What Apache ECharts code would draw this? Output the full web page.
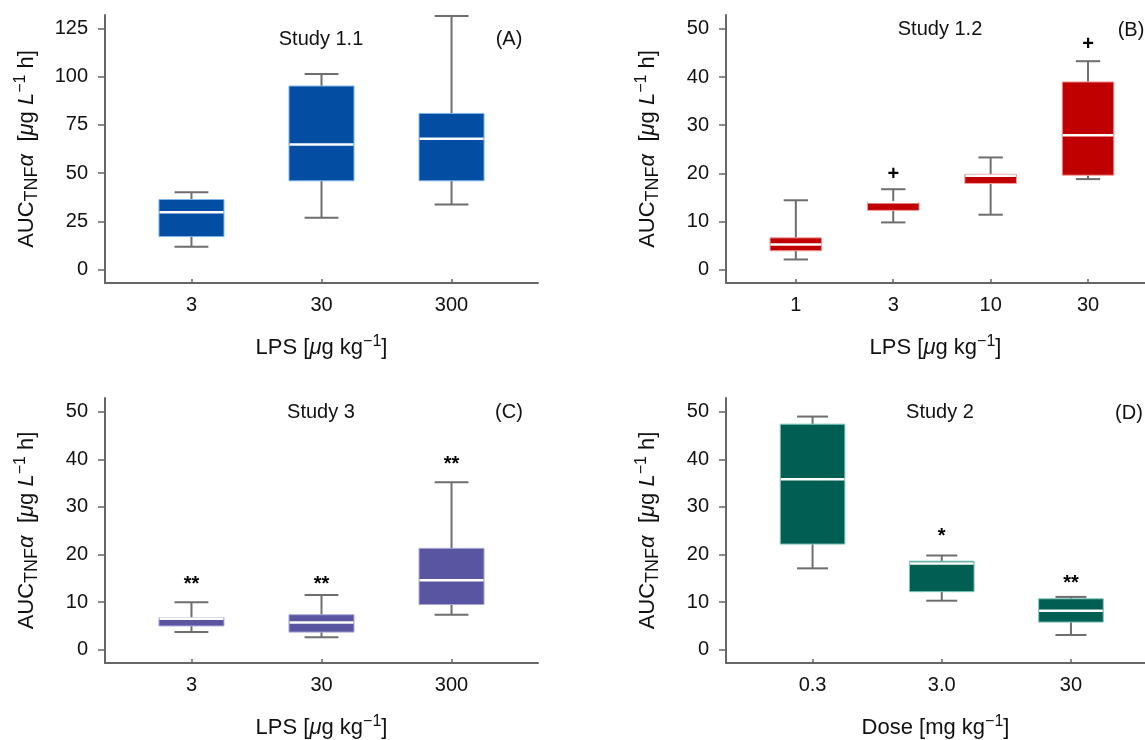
<!DOCTYPE html>
<html><head><meta charset="utf-8">
<script src="https://cdn.jsdelivr.net/npm/echarts@6/dist/echarts.min.js"></script>
<style>html,body{margin:0;padding:0;background:#fff}#c{width:1145px;height:740px}</style>
</head><body><div id="c"></div>
<script>
// ---- data: [low whisker, Q1, median, Q3, high whisker] ----
const catsA = ['3', '30', '300'];
const statsA = [[11.8, 17.1, 29.7, 36.3, 40.1], [26.8, 46.0, 64.8, 95.1, 101.3], [33.7, 46.0, 67.8, 80.9, 131.4]];
const marksA = ['', '', ''];
const markYA = [null, null, null];

const catsB = ['1', '3', '10', '30'];
const statsB = [[2.1, 3.9, 5.2, 6.6, 14.4], [9.8, 12.3, 14.0, 14.0, 16.7], [11.4, 17.9, 19.5, 19.8, 23.3], [18.8, 19.6, 27.9, 39.0, 43.3]];
const marksB = ['', '+', '', '+'];
const markYB = [null, 19.8, null, 46.7];

const catsC = ['3', '30', '300'];
const statsC = [[3.7, 5.0, 6.5, 6.7, 10.0], [2.6, 3.7, 5.7, 7.35, 11.5], [7.35, 9.5, 14.6, 21.3, 35.2]];
const marksC = ['**', '**', '**'];
const markYC = [13.7, 13.7, 39.0];

const catsD = ['0.3', '3.0', '30'];
const statsD = [[17.1, 22.2, 35.8, 47.4, 49.0], [10.3, 12.2, 18.1, 18.6, 19.8], [3.1, 5.8, 8.2, 10.7, 11.1]];
const marksD = ['', '*', '**'];
const markYD = [null, 23.8, 13.9];

const ticksA = [0, 25, 50, 75, 100, 125];
const ticks50 = [0, 10, 20, 30, 40, 50];

// ---- styling ----
const FF = '"Liberation Sans", Arial, sans-serif';
const AX = '#666666';
const TXT = '#111111';

const richName = {
  n: { fontSize: 22, fontFamily: FF, color: TXT },
  i: { fontSize: 22, fontFamily: FF, color: TXT, fontStyle: 'italic' },
  sub: { fontSize: 18, fontFamily: FF, color: TXT, padding: [10, 0, 0, 0] },
  sup: { fontSize: 16, fontFamily: FF, color: TXT, padding: [0, 0, 12, 0] }
};

function xAxisCfg(gi, cats, min, max, nameRich) {
  const vals = cats.map((c, i) => i + 1);
  return {
    type: 'value', gridIndex: gi, min: min, max: max,
    axisLine: { show: true, onZero: false, lineStyle: { color: AX, width: 2 } },
    axisTick: { show: true, inside: true, length: 4, customValues: vals, lineStyle: { color: AX, width: 1.5 } },
    axisLabel: { customValues: vals, formatter: v => cats[Math.round(v) - 1] || '', fontSize: 20, fontFamily: FF, color: TXT, margin: 12 },
    splitLine: { show: false },
    name: nameRich, nameLocation: 'middle', nameGap: 51,
    nameTextStyle: { rich: richName, fontSize: 22, fontFamily: FF, color: TXT }
  };
}
function yAxisCfg(gi, min, max, ticks) {
  return {
    type: 'value', gridIndex: gi, min: min, max: max,
    axisLine: { show: true, onZero: false, lineStyle: { color: AX, width: 2 } },
    axisTick: { show: true, inside: false, length: 7, customValues: ticks, lineStyle: { color: AX, width: 1.5 } },
    axisLabel: { customValues: ticks, fontSize: 20, fontFamily: FF, color: TXT, margin: 17 },
    splitLine: { show: false },
    name: '{n|AUC}{sub|TNF}{i|α}  {n|[}{i|μ}{n|g }{i|L}{sup|−1}{n| h]}',
    nameLocation: 'middle', nameRotate: 90, nameGap: 64,
    nameTextStyle: { rich: richName, fontSize: 22, fontFamily: FF, color: TXT }
  };
}
const lpsName = '{n|LPS [}{i|μ}{n|g kg}{sup|−1}{n|]}';
const doseName = '{n|Dose [mg kg}{sup|−1}{n|]}';

function boxSeries(gi, stats, marks, markY, fill, border, boxW, capW) {
  return {
    type: 'custom', xAxisIndex: gi, yAxisIndex: gi, clip: false,
    data: stats.map((s, k) => [k + 1].concat(s)),
    encode: { x: 0, y: [1, 2, 3, 4, 5] },
    renderItem: function (params, api) {
      const x = api.value(0);
      const lo = api.coord([x, api.value(1)]);
      const q1 = api.coord([x, api.value(2)]);
      const md = api.coord([x, api.value(3)]);
      const q3 = api.coord([x, api.value(4)]);
      const hi = api.coord([x, api.value(5)]);
      const unit = api.size([1, 0])[0];
      const bw = unit * boxW, cw = unit * capW, cx = lo[0];
      const ws = { stroke: '#6e6e6e', lineWidth: 2 };
      const ch = [
        { type: 'line', shape: { x1: cx, y1: lo[1], x2: cx, y2: q1[1] }, style: ws },
        { type: 'line', shape: { x1: cx, y1: q3[1], x2: cx, y2: hi[1] }, style: ws },
        { type: 'line', shape: { x1: cx - cw / 2, y1: lo[1], x2: cx + cw / 2, y2: lo[1] }, style: ws },
        { type: 'line', shape: { x1: cx - cw / 2, y1: hi[1], x2: cx + cw / 2, y2: hi[1] }, style: ws },
        { type: 'rect', shape: { x: cx - bw / 2, y: q3[1], width: bw, height: q1[1] - q3[1] }, style: { fill: fill, stroke: border, lineWidth: 1 } },
        { type: 'line', shape: { x1: cx - bw / 2 + 0.5, y1: md[1], x2: cx + bw / 2 - 0.5, y2: md[1] }, style: { stroke: '#ffffff', lineWidth: 2.5 } }
      ];
      const k = params.dataIndex;
      if (marks[k]) {
        const p = api.coord([x, markY[k]]);
        ch.push({ type: 'text', x: p[0], y: p[1], style: { text: marks[k], fill: '#000', font: 'bold 20px ' + FF, align: 'center', verticalAlign: 'middle' } });
      }
      return { type: 'group', children: ch };
    }
  };
}

const titleStyle = { fontSize: 20, fontWeight: 'normal', fontFamily: FF, color: TXT };
function ttl(text, left, top) {
  return { text: text, left: left, top: top, textAlign: 'center', padding: 0, textStyle: titleStyle };
}

const option = {
  backgroundColor: '#ffffff',
  animation: false,
  title: [
    ttl('Study 1.1', 321, 29), ttl('(A)', 509, 29),
    ttl('Study 1.2', 940, 19), ttl('(B)', 1131, 20),
    ttl('Study 3', 321, 402), ttl('(C)', 509, 402),
    ttl('Study 2', 940, 402), ttl('(D)', 1129, 403)
  ],
  grid: [
    { left: 105, top: 15, width: 433, height: 268 },
    { left: 726, top: 15, width: 419, height: 268 },
    { left: 105, top: 398, width: 433, height: 268 },
    { left: 726, top: 398, width: 419, height: 268 }
  ],
  xAxis: [
    xAxisCfg(0, catsA, 0.335, 3.665, lpsName),
    xAxisCfg(1, catsB, 0.283, 4.585, lpsName),
    xAxisCfg(2, catsC, 0.335, 3.665, lpsName),
    xAxisCfg(3, catsD, 0.33, 3.573, doseName)
  ],
  yAxis: [
    yAxisCfg(0, -6.95, 131.9, ticksA),
    yAxisCfg(1, -2.79, 52.9, ticks50),
    yAxisCfg(2, -2.79, 52.9, ticks50),
    yAxisCfg(3, -2.79, 52.9, ticks50)
  ],
  series: [
    boxSeries(0, statsA, marksA, markYA, '#034ea2', '#7fb6e6', 0.5, 0.26),
    boxSeries(1, statsB, marksB, markYB, '#c00000', '#f2a0a0', 0.53, 0.25),
    boxSeries(2, statsC, marksC, markYC, '#5a55a0', '#aaa6d8', 0.5, 0.26),
    boxSeries(3, statsD, marksD, markYD, '#005f52', '#7fc7bb', 0.5, 0.24)
  ]
};
const chart = echarts.init(document.getElementById('c'), null, { renderer: 'canvas' });
chart.setOption(option);
</script>
</body></html>
